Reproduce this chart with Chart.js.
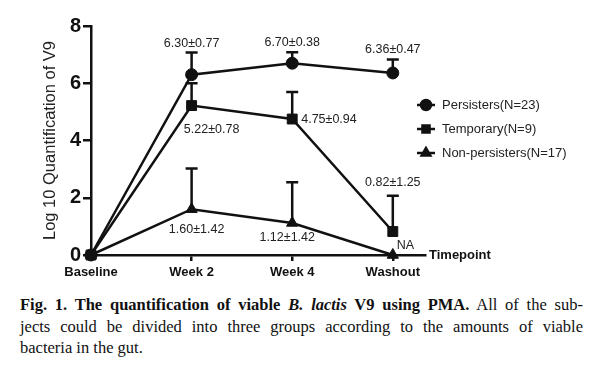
<!DOCTYPE html>
<html><head><meta charset="utf-8">
<script src="https://cdn.jsdelivr.net/npm/chart.js@4.4.1/dist/chart.umd.min.js"></script>
<style>
html,body{margin:0;padding:0;background:#fff;width:600px;height:378px;overflow:hidden}
#wrap{position:relative;width:600px;height:294px}
#cap{font-family:"Liberation Serif","DejaVu Serif",serif;font-size:16.5px;line-height:21.5px;color:#111;margin:0 17px 0 20px}
.j{text-align:justify;text-align-last:justify}
</style></head><body>
<div id="wrap"><canvas id="c" width="600" height="294"></canvas></div>
<div id="cap"><div class="j"><b>Fig. 1. The quantification of viable <i>B. lactis</i> V9 using PMA.</b> All of the sub-</div><div class="j">jects could be divided into three groups according to the amounts of viable</div><div>bacteria in the gut.</div></div>
<script>
const categories = ['Baseline', 'Week 2', 'Week 4', 'Washout'];
const seriesNames = ['Persisters(N=23)', 'Temporary(N=9)', 'Non-persisters(N=17)'];
const persisters = [0, 6.30, 6.70, 6.36];
const persistersSD = [0, 0.77, 0.38, 0.47];
const temporary = [0, 5.22, 4.75, 0.82];
const temporarySD = [0, 0.78, 0.94, 1.25];
const nonPersisters = [0, 1.60, 1.12, 0];
const nonPersistersSD = [0, 1.42, 1.42, 0];
const persistersLabels = [null, '6.30±0.77', '6.70±0.38', '6.36±0.47'];
const temporaryLabels = [null, '5.22±0.78', '4.75±0.94', '0.82±1.25'];
const nonPersistersLabels = [null, '1.60±1.42', '1.12±1.42', 'NA'];
const yTicks = [0, 2, 4, 6, 8];
const xAxisTitle = 'Timepoint';
const yAxisTitle = 'Log 10 Quantification of V9';

const ink = '#111';
const sans = "'Liberation Sans', Arial, sans-serif";
const sdMap = [persistersSD, temporarySD, nonPersistersSD];
const lblMap = [persistersLabels, temporaryLabels, nonPersistersLabels];
// label placement (style only): anchor at point or at whisker cap, pixel offsets
const place = [
  [null, {a:'cap',dx:0,dy:-9.5,al:'center'}, {a:'cap',dx:0,dy:-9.5,al:'center'}, {a:'cap',dx:0,dy:-9.5,al:'center'}],
  [null, {a:'pt',dx:20,dy:24,al:'center'}, {a:'pt',dx:9,dy:1,al:'left'}, {a:'cap',dx:0,dy:-13,al:'center'}],
  [null, {a:'pt',dx:5,dy:20,al:'center'}, {a:'pt',dx:-5,dy:15,al:'center'}, {a:'pt',dx:4,dy:-9,al:'left'}]
];

const mk = (label, data, style, radius) => ({
  label, data: data.map((v, i) => ({x: i, y: v})),
  borderColor: ink, backgroundColor: ink, borderWidth: 2.5,
  pointStyle: style, pointRadius: radius, pointHoverRadius: radius,
  pointBorderWidth: 1, pointBorderColor: ink, pointBackgroundColor: ink,
  tension: 0, fill: false, clip: false
});

const annot = {
  id: 'annot',
  afterDatasetsDraw(chart) {
    const {ctx, scales: {x, y}} = chart;
    ctx.save();
    ctx.strokeStyle = ink; ctx.lineWidth = 2.5; ctx.lineCap = 'butt';
    chart.data.datasets.forEach((ds, di) => {
      ds.data.forEach((p, i) => {
        const sd = sdMap[di][i]; if (!sd) return;
        const px = x.getPixelForValue(p.x), py0 = y.getPixelForValue(p.y), py1 = y.getPixelForValue(p.y + sd);
        ctx.beginPath(); ctx.moveTo(px, py0); ctx.lineTo(px, py1);
        ctx.moveTo(px - 6, py1); ctx.lineTo(px + 6, py1); ctx.stroke();
      });
    });
    ctx.font = `12.5px ${sans}`; ctx.fillStyle = '#222'; ctx.textBaseline = 'middle';
    chart.data.datasets.forEach((ds, di) => {
      ds.data.forEach((p, i) => {
        const t = lblMap[di][i]; const pl = place[di][i]; if (!t || !pl) return;
        const px = x.getPixelForValue(p.x);
        const val = pl.a === 'cap' ? p.y + sdMap[di][i] : p.y;
        const py = y.getPixelForValue(val);
        ctx.textAlign = pl.al;
        ctx.fillText(t, px + pl.dx, py + pl.dy);
      });
    });
    // axis title at end of x axis
    ctx.font = `bold 13px ${sans}`; ctx.fillStyle = ink; ctx.textAlign = 'left';
    ctx.fillText(xAxisTitle, x.right + 4, y.getPixelForValue(0));
    // legend
    const lx = 417, ly0 = 105, gap = 24;
    chart.data.datasets.forEach((ds, di) => {
      const ly = ly0 + di * gap;
      ctx.strokeStyle = ink; ctx.lineWidth = 2.5;
      ctx.beginPath(); ctx.moveTo(lx, ly); ctx.lineTo(lx + 18, ly); ctx.stroke();
      ctx.fillStyle = ink;
      Chart.helpers.drawPoint(ctx, {pointStyle: ds.pointStyle, radius: 5, rotation: 0, borderWidth: 1}, lx + 9, ly);
      ctx.fillStyle = '#222'; ctx.font = `13px ${sans}`; ctx.textAlign = 'left';
      ctx.fillText(ds.label, lx + 25, ly);
    });
    ctx.restore();
  }
};

new Chart(document.getElementById('c'), {
  type: 'line',
  data: {datasets: [
    mk(seriesNames[0], persisters, 'circle', 6),
    mk(seriesNames[1], temporary, 'rect', 7),
    mk(seriesNames[2], nonPersisters, 'triangle', 6.5)
  ]},
  options: {
    responsive: false, animation: false, events: [],
    layout: {padding: {left: 41, right: 175, top: 26, bottom: 9}},
    plugins: {legend: {display: false}, tooltip: {enabled: false}},
    scales: {
      x: {
        type: 'linear', min: 0, max: 3.32,
        afterBuildTicks: s => { s.ticks = categories.map((_, i) => ({value: i})); },
        ticks: {callback: v => categories[v], font: {family: sans, size: 13, weight: 'bold'}, color: ink, padding: 4, maxRotation: 0, autoSkip: false},
        grid: {drawOnChartArea: false, drawTicks: true, tickLength: 6, lineWidth: 2.5, color: c => (c.tick && c.tick.value === 0) ? 'rgba(0,0,0,0)' : ink},
        border: {color: ink, width: 2.5},
        afterFit: s => { s.height = 30; }
      },
      y: {
        min: 0, max: 8,
        afterBuildTicks: s => { s.ticks = yTicks.map(v => ({value: v})); },
        ticks: {font: {family: sans, size: 20, weight: 'bold'}, color: ink, padding: 2},
        grid: {drawOnChartArea: false, drawTicks: true, tickLength: 8, lineWidth: 2.5, color: ink},
        border: {color: ink, width: 2.5},
        title: {display: true, text: yAxisTitle, font: {family: sans, size: 16.5}, color: '#222', padding: {top: 0, bottom: 0}},
        afterFit: s => { s.width = 50; }
      }
    }
  },
  plugins: [annot]
});
</script>
</body></html>
